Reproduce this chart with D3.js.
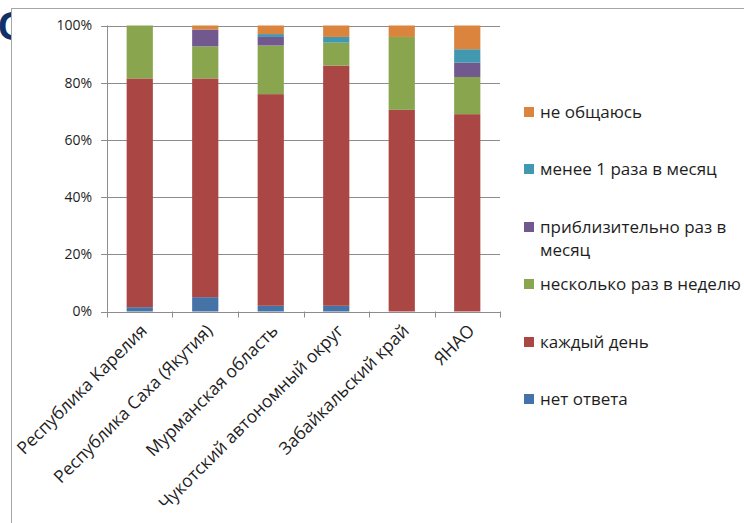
<!DOCTYPE html>
<html><head><meta charset="utf-8">
<script src="https://cdn.jsdelivr.net/npm/d3@7"></script>
<style>
html,body{margin:0;padding:0;background:#fff;}
svg{display:block;}
text{font-family:"Open Sans","Noto Sans",sans-serif;fill:#1e1e1e;}
</style></head>
<body>
<svg id="c" width="744" height="523"></svg>
<script>
const categories = ["Республика Карелия","Республика Саха (Якутия)","Мурманская область","Чукотский автономный округ","Забайкальский край","ЯНАО"];
const seriesNames = ["нет ответа","каждый день","несколько раз в неделю","приблизительно раз в месяц","менее 1 раза в месяц","не общаюсь"];
const noAnswer    = [1.5, 5.0, 2.0, 2.0, 0.0, 0.0];
const daily       = [80.0, 76.5, 74.0, 84.0, 70.5, 69.0];
const severalWeek = [18.5, 11.2, 17.0, 8.0, 25.5, 13.0];
const monthly     = [0.0, 5.9, 3.0, 0.0, 0.0, 5.0];
const lessMonthly = [0.0, 0.0, 1.0, 2.0, 0.0, 4.7];
const noContact   = [0.0, 1.4, 3.0, 4.0, 4.0, 8.3];
const yTicks = [0, 20, 40, 60, 80, 100];
const colors = ["#4572A7","#AA4643","#89A54E","#71588F","#4198AF","#DB843D"];

const seriesValues = [noAnswer, daily, severalWeek, monthly, lessMonthly, noContact];
const rows = categories.map((c, i) => {
  const r = {cat: c};
  seriesNames.forEach((s, j) => r[s] = seriesValues[j][i]);
  return r;
});

const svg = d3.select("#c");
// slide title letter, partly hidden behind the chart box
svg.append("text").attr("x",-2).attr("y",40).text("С")
  .style("font-family","Liberation Sans, Arial, sans-serif").style("font-weight","bold")
  .style("font-size","40px").style("fill","#10306A");
svg.append("rect").attr("x",11).attr("y",8).attr("width",733).attr("height",515).attr("fill","#fff");
// frame
svg.append("line").attr("x1",11).attr("x2",744).attr("y1",8.5).attr("y2",8.5).attr("stroke","#a6a6a6");
svg.append("line").attr("x1",11.5).attr("x2",11.5).attr("y1",8).attr("y2",523).attr("stroke","#a6a6a6");

const x = d3.scaleBand().domain(categories).range([107, 500]).paddingInner(0.6).paddingOuter(0.3);
const y = d3.scaleLinear().domain([0, 100]).range([311.5, 25.5]);

// gridlines
const g = svg.append("g");
g.selectAll("line.grid").data(yTicks).join("line")
  .attr("x1", 101).attr("x2", 500)
  .attr("y1", d => Math.round(y(d)) + 0.5).attr("y2", d => Math.round(y(d)) + 0.5)
  .attr("stroke", "#8c8c8c").attr("stroke-width", 1);
g.selectAll("text.yl").data(yTicks).join("text")
  .attr("x", 92).attr("y", d => y(d)).attr("dy", "0.35em")
  .attr("text-anchor", "end").style("font-size", "14px")
  .text(d => d + "%");

// y axis line
svg.append("line").attr("x1",107.5).attr("x2",107.5).attr("y1",y(100)).attr("y2",y(0)).attr("stroke","#8c8c8c");

// stacked bars
const stack = d3.stack().keys(seriesNames)(rows);
svg.append("g").selectAll("g").data(stack).join("g")
  .attr("fill", (d, i) => colors[i])
  .selectAll("rect").data(d => d).join("rect")
  .attr("x", d => x(d.data.cat))
  .attr("width", x.bandwidth())
  .attr("y", d => y(d[1]))
  .attr("height", d => Math.max(0, y(d[0]) - y(d[1])));

// x axis
const step = x.step();
const bounds = categories.map(c => x(c) - step * x.paddingOuter()).concat([x(categories[5]) + x.bandwidth() + step * x.paddingOuter()]);
svg.append("line").attr("x1",107).attr("x2",500).attr("y1",Math.round(y(0))+0.5).attr("y2",Math.round(y(0))+0.5).attr("stroke","#8c8c8c");
svg.selectAll("line.xt").data(bounds).join("line")
  .attr("x1", d => Math.round(d)+0.5).attr("x2", d => Math.round(d)+0.5)
  .attr("y1", y(0)).attr("y2", y(0) + 6).attr("stroke", "#8c8c8c");
svg.selectAll("text.xl").data(categories).join("text")
  .attr("text-anchor", "end")
  .attr("transform", c => `translate(${x(c) + x.bandwidth()/2 + 4},${y(0) + 16}) rotate(-45)`)
  .attr("dy", "0.35em")
  .style("font-size", "17.5px")
  .text(c => c);

// legend
const legendItems = [
  {lines: ["не общаюсь"], y: 112, c: 5},
  {lines: ["менее 1 раза в месяц"], y: 169, c: 4},
  {lines: ["приблизительно раз в", "месяц"], y: 227, c: 3},
  {lines: ["несколько раз в неделю"], y: 284, c: 2},
  {lines: ["каждый день"], y: 342, c: 1},
  {lines: ["нет ответа"], y: 399, c: 0}
];
const lg = svg.append("g").selectAll("g").data(legendItems).join("g");
lg.append("rect").attr("x", 524).attr("y", d => d.y - 5).attr("width", 10).attr("height", 10)
  .attr("fill", d => colors[d.c]);
lg.each(function(d) {
  const t = d3.select(this).append("text").attr("x", 540).attr("y", d.y).style("font-size", "17px");
  d.lines.forEach((l, i) => t.append("tspan").attr("x", 540).attr("dy", i === 0 ? "0.35em" : "23px").text(l));
});
</script>
</body></html>
